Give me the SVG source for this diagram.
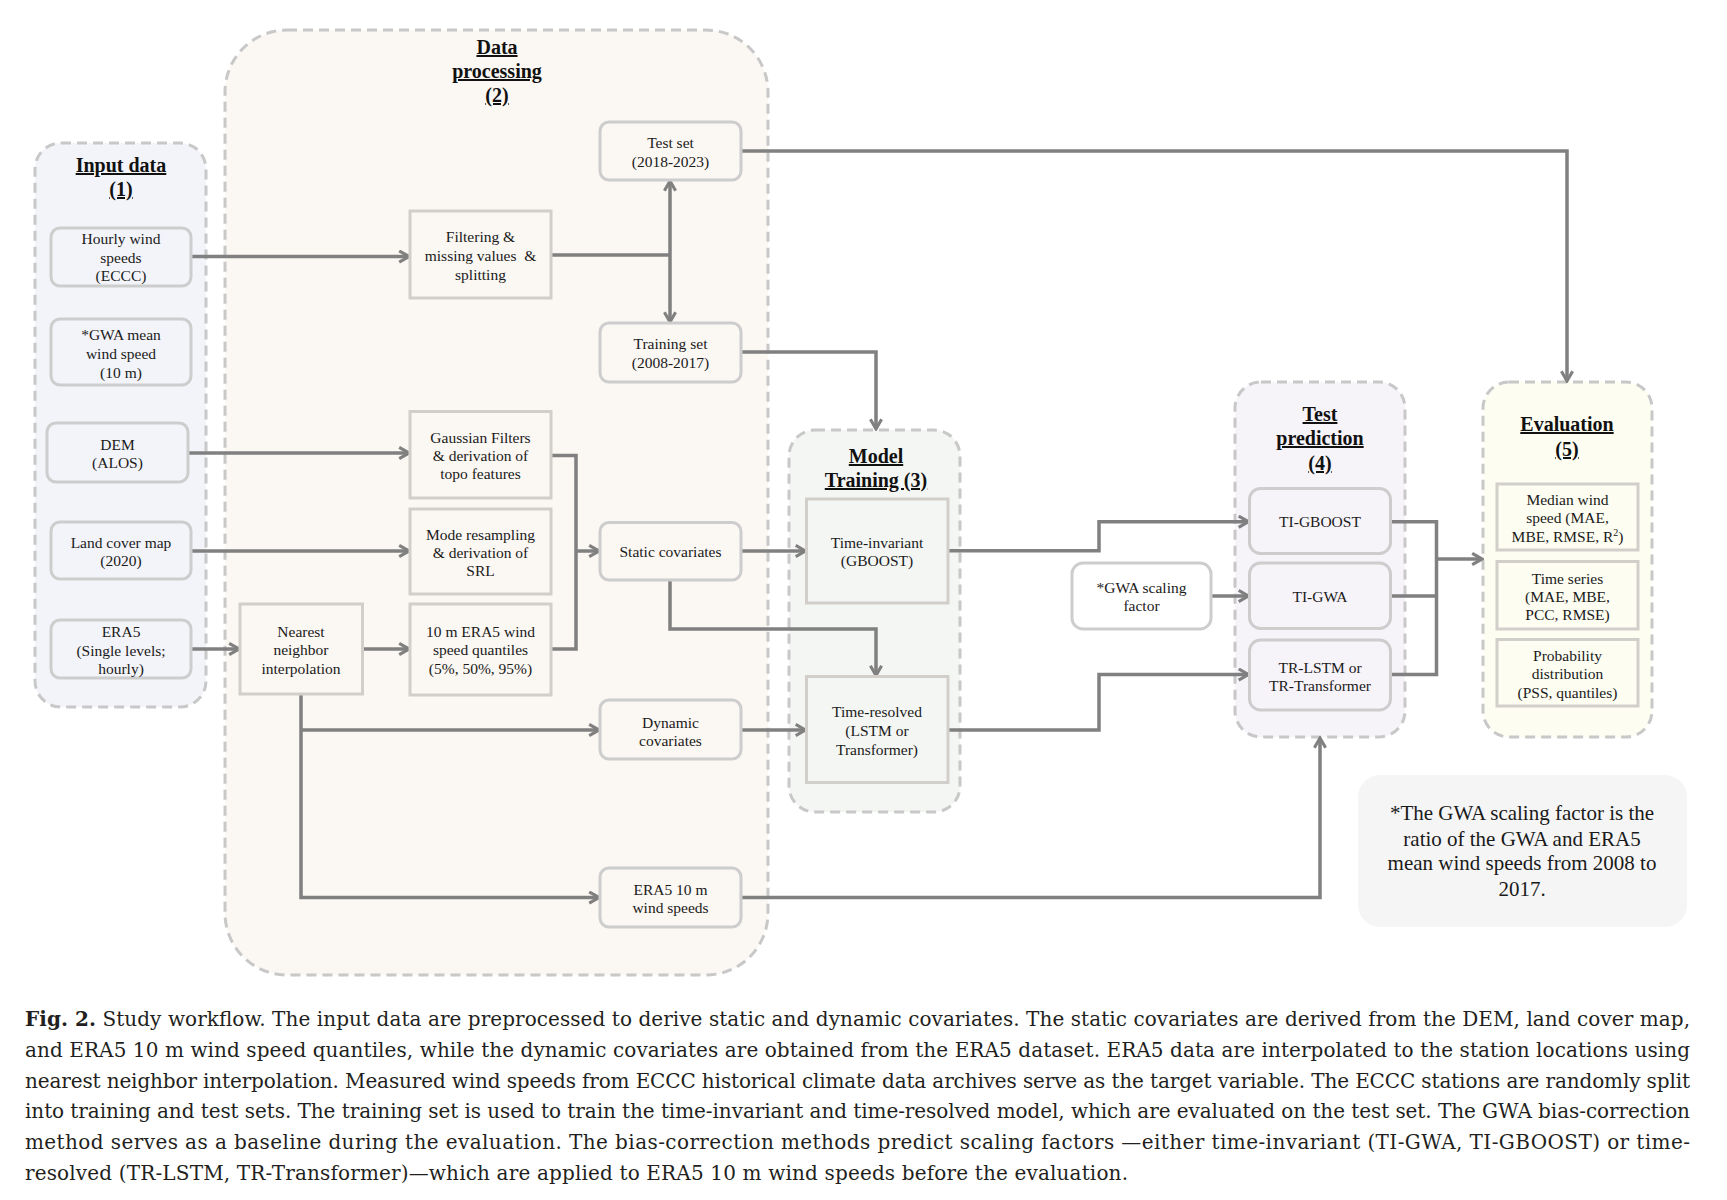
<svg xmlns="http://www.w3.org/2000/svg" width="1727" height="1200" viewBox="0 0 1727 1200">
<defs>
<style>
.grp{stroke:#c8c8c8;stroke-width:3;stroke-dasharray:10 6}
.rn{stroke:#cdcdcd;stroke-width:3}
.sq{stroke:#d2cfca;stroke-width:3}
.t{font-family:"Liberation Serif","Times New Roman",serif;font-size:15.5px;fill:#1a1a1a;text-anchor:middle}
.ti{font-family:"Liberation Serif","Times New Roman",serif;font-size:20px;font-weight:bold;fill:#111;text-anchor:middle;text-decoration:underline}
.note{font-family:"Liberation Serif","Times New Roman",serif;font-size:21px;fill:#1a1a1a;text-anchor:middle}
.cap{font-family:"DejaVu Serif",serif;font-size:20px;fill:#231f20}
.c{fill:none;stroke:#808080;stroke-width:3.5}
.ca{fill:none;stroke:#808080;stroke-width:3.5;marker-end:url(#ah)}
</style>
<marker id="ah" viewBox="0 0 10 10" refX="8.5" refY="5" markerUnits="userSpaceOnUse" markerWidth="14" markerHeight="14" orient="auto">
<path d="M1.5,1 L8.5,5 L1.5,9" fill="none" stroke="#808080" stroke-width="2.2"/>
</marker>
</defs>
<rect width="1727" height="1200" fill="#ffffff"/>

<!-- groups -->
<g id="group-input"><rect class="grp" x="35" y="143" width="171" height="564" rx="26" fill="#f3f4f9"/>
<text class="ti" x="121" y="172">Input data</text><text class="ti" x="121" y="196">(1)</text></g>
<g id="group-processing"><rect class="grp" x="225" y="30" width="543" height="945" rx="62" fill="#fbf7f3"/>
<text class="ti" x="497" y="54">Data</text><text class="ti" x="497" y="78">processing</text><text class="ti" x="497" y="102">(2)</text></g>
<g id="group-training"><rect class="grp" x="789" y="430" width="171" height="382" rx="26" fill="#f4f6f3"/>
<text class="ti" x="876" y="463">Model</text><text class="ti" x="876" y="487">Training (3)</text></g>
<g id="group-prediction"><rect class="grp" x="1235" y="382" width="170" height="355" rx="26" fill="#f6f3f9"/>
<text class="ti" x="1320" y="421">Test</text><text class="ti" x="1320" y="445">prediction</text><text class="ti" x="1320" y="470">(4)</text></g>
<g id="group-evaluation"><rect class="grp" x="1483" y="382" width="169" height="355" rx="26" fill="#fdfdf2"/>
<text class="ti" x="1567" y="431">Evaluation</text><text class="ti" x="1567" y="456">(5)</text></g>

<!-- connectors -->
<g id="connectors">
<path class="ca" d="M191,256.5 H409"/>
<path class="c" d="M551,255 H670"/>
<path class="ca" d="M670,255 V181"/>
<path class="ca" d="M670,255 V322"/>
<path class="ca" d="M741,151 H1567 V381"/>
<path class="ca" d="M741,352 H876 V429"/>
<path class="ca" d="M188,453 H409"/>
<path class="ca" d="M191,551 H409"/>
<path class="ca" d="M191,649 H239"/>
<path class="ca" d="M362.5,649 H409"/>
<path class="c" d="M551,455.5 H576 V649 H551"/>
<path class="ca" d="M576,551 H599"/>
<path class="ca" d="M741,551 H805.5"/>
<path class="ca" d="M670,580 V629 H876 V675.5"/>
<path class="ca" d="M301,694 V897.5 H599"/>
<path class="ca" d="M301,730 H599"/>
<path class="ca" d="M741,730 H805.5"/>
<path class="ca" d="M741,897.5 H1320 V738"/>
<path class="ca" d="M948,550.7 H1099 V521.7 H1248.5"/>
<path class="ca" d="M948,730 H1099 V674.5 H1248.5"/>
<path class="ca" d="M1211,596 H1248.5"/>
<path class="c" d="M1390.5,521.7 H1436.5 V674.5 H1390.5 M1390.5,596 H1436.5"/>
<path class="ca" d="M1436.5,559 H1482"/>
</g>

<!-- input nodes -->
<g id="n-hourly"><rect class="rn" x="51" y="228" width="140" height="58" rx="9" fill="#f3f4f9"/>
<text class="t" x="121" y="244">Hourly wind</text><text class="t" x="121" y="262.5">speeds</text><text class="t" x="121" y="281">(ECCC)</text></g>
<g id="n-gwamean"><rect class="rn" x="51" y="319" width="140" height="66" rx="9" fill="#f3f4f9"/>
<text class="t" x="121" y="340">*GWA mean</text><text class="t" x="121" y="359">wind speed</text><text class="t" x="121" y="378">(10 m)</text></g>
<g id="n-dem"><rect class="rn" x="47" y="423" width="141" height="59" rx="9" fill="#f3f4f9"/>
<text class="t" x="117.5" y="449.5">DEM</text><text class="t" x="117.5" y="467.5">(ALOS)</text></g>
<g id="n-landcover"><rect class="rn" x="51" y="522" width="140" height="57" rx="9" fill="#f3f4f9"/>
<text class="t" x="121" y="548">Land cover map</text><text class="t" x="121" y="566">(2020)</text></g>
<g id="n-era5"><rect class="rn" x="51" y="620" width="140" height="58" rx="9" fill="#f3f4f9"/>
<text class="t" x="121" y="637">ERA5</text><text class="t" x="121" y="655.5">(Single levels;</text><text class="t" x="121" y="674">hourly)</text></g>

<!-- processing nodes -->
<g id="n-testset"><rect class="rn" x="600" y="122" width="141" height="58" rx="9" fill="#fbf7f3"/>
<text class="t" x="670.5" y="147.5">Test set</text><text class="t" x="670.5" y="166.5">(2018-2023)</text></g>
<g id="n-filtering"><rect class="sq" x="410" y="211" width="141" height="87" fill="#fbf7f3"/>
<text class="t" x="480.5" y="242">Filtering &amp;</text><text class="t" x="480.5" y="261" xml:space="preserve">missing values  &amp;</text><text class="t" x="480.5" y="279.5">splitting</text></g>
<g id="n-trainset"><rect class="rn" x="600" y="323" width="141" height="59" rx="9" fill="#fbf7f3"/>
<text class="t" x="670.5" y="349">Training set</text><text class="t" x="670.5" y="367.5">(2008-2017)</text></g>
<g id="n-gaussian"><rect class="sq" x="410" y="411.5" width="141" height="86.5" fill="#fbf7f3"/>
<text class="t" x="480.5" y="443">Gaussian Filters</text><text class="t" x="480.5" y="461">&amp; derivation of</text><text class="t" x="480.5" y="479">topo features</text></g>
<g id="n-mode"><rect class="sq" x="410" y="509" width="141" height="85" fill="#fbf7f3"/>
<text class="t" x="480.5" y="540">Mode resampling</text><text class="t" x="480.5" y="558">&amp; derivation of</text><text class="t" x="480.5" y="576">SRL</text></g>
<g id="n-era5q"><rect class="sq" x="410" y="604" width="141" height="91" fill="#fbf7f3"/>
<text class="t" x="480.5" y="637">10 m ERA5 wind</text><text class="t" x="480.5" y="655">speed quantiles</text><text class="t" x="480.5" y="674">(5%, 50%, 95%)</text></g>
<g id="n-nearest"><rect class="sq" x="240" y="604" width="122.5" height="90" fill="#fbf7f3"/>
<text class="t" x="301" y="637">Nearest</text><text class="t" x="301" y="655">neighbor</text><text class="t" x="301" y="674">interpolation</text></g>
<g id="n-static"><rect class="rn" x="600" y="522.5" width="141" height="57.5" rx="9" fill="#fbf7f3"/>
<text class="t" x="670.5" y="557">Static covariates</text></g>
<g id="n-dynamic"><rect class="rn" x="600" y="700" width="141" height="59" rx="9" fill="#fbf7f3"/>
<text class="t" x="670.5" y="728">Dynamic</text><text class="t" x="670.5" y="746">covariates</text></g>
<g id="n-era5ws"><rect class="rn" x="600" y="868" width="141" height="59" rx="9" fill="#fbf7f3"/>
<text class="t" x="670.5" y="895">ERA5 10 m</text><text class="t" x="670.5" y="913">wind speeds</text></g>

<!-- training nodes -->
<g id="n-ti"><rect class="sq" x="806.5" y="499" width="141.5" height="104" fill="#f4f6f3" stroke="#cfd2cc"/>
<text class="t" x="877" y="547.5">Time-invariant</text><text class="t" x="877" y="565.5">(GBOOST)</text></g>
<g id="n-tr"><rect class="sq" x="806.5" y="676.5" width="141.5" height="106" fill="#f4f6f3" stroke="#cfd2cc"/>
<text class="t" x="877" y="717">Time-resolved</text><text class="t" x="877" y="735.5">(LSTM or</text><text class="t" x="877" y="754.5">Transformer)</text></g>

<!-- prediction nodes -->
<g id="n-gwasf"><rect class="rn" x="1072" y="563" width="139" height="66" rx="11" fill="#ffffff"/>
<text class="t" x="1141.5" y="592.5">*GWA scaling</text><text class="t" x="1141.5" y="611">factor</text></g>
<g id="n-tigboost"><rect class="rn" x="1249.5" y="488.5" width="141" height="65" rx="11" fill="#f6f3f9"/>
<text class="t" x="1320" y="527">TI-GBOOST</text></g>
<g id="n-tigwa"><rect class="rn" x="1249.5" y="563" width="141" height="65.5" rx="11" fill="#f6f3f9"/>
<text class="t" x="1320" y="601.5">TI-GWA</text></g>
<g id="n-trlstm"><rect class="rn" x="1249.5" y="640" width="141" height="70" rx="11" fill="#f6f3f9"/>
<text class="t" x="1320" y="673">TR-LSTM or</text><text class="t" x="1320" y="691">TR-Transformer</text></g>

<!-- evaluation nodes -->
<g id="n-median"><rect class="sq" x="1497" y="484" width="141" height="66" fill="#fdfdf2" stroke="#d6d6cc"/>
<text class="t" x="1567.5" y="505">Median wind</text><text class="t" x="1567.5" y="523">speed (MAE,</text><text class="t" x="1567.5" y="542">MBE, RMSE, R<tspan font-size="10" dy="-6">2</tspan><tspan dy="6">)</tspan></text></g>
<g id="n-timeseries"><rect class="sq" x="1497" y="561.5" width="141" height="67.5" fill="#fdfdf2" stroke="#d6d6cc"/>
<text class="t" x="1567.5" y="584">Time series</text><text class="t" x="1567.5" y="602">(MAE, MBE,</text><text class="t" x="1567.5" y="620">PCC, RMSE)</text></g>
<g id="n-prob"><rect class="sq" x="1497" y="639.5" width="141" height="66.5" fill="#fdfdf2" stroke="#d6d6cc"/>
<text class="t" x="1567.5" y="661">Probability</text><text class="t" x="1567.5" y="679">distribution</text><text class="t" x="1567.5" y="697.5">(PSS, quantiles)</text></g>

<!-- note -->
<g id="n-note"><rect x="1358" y="775" width="329" height="152" rx="22" fill="#f5f5f5"/>
<text class="note" x="1522" y="820">*The GWA scaling factor is the</text>
<text class="note" x="1522" y="845.5">ratio of the GWA and ERA5</text>
<text class="note" x="1522" y="870">mean wind speeds from 2008 to</text>
<text class="note" x="1522" y="895.5">2017.</text></g>

<!-- caption -->
<g id="caption">
<text class="cap" x="25" y="1026" textLength="1665" lengthAdjust="spacing"><tspan font-weight="bold">Fig. 2.</tspan> Study workflow. The input data are preprocessed to derive static and dynamic covariates. The static covariates are derived from the DEM, land cover map,</text>
<text class="cap" x="25" y="1056.8" textLength="1665" lengthAdjust="spacing">and ERA5 10 m wind speed quantiles, while the dynamic covariates are obtained from the ERA5 dataset. ERA5 data are interpolated to the station locations using</text>
<text class="cap" x="25" y="1087.6" textLength="1665" lengthAdjust="spacing">nearest neighbor interpolation. Measured wind speeds from ECCC historical climate data archives serve as the target variable. The ECCC stations are randomly split</text>
<text class="cap" x="25" y="1118.4" textLength="1665" lengthAdjust="spacing">into training and test sets. The training set is used to train the time-invariant and time-resolved model, which are evaluated on the test set. The GWA bias-correction</text>
<text class="cap" x="25" y="1149.2" textLength="1665" lengthAdjust="spacing">method serves as a baseline during the evaluation. The bias-correction methods predict scaling factors —either time-invariant (TI-GWA, TI-GBOOST) or time-</text>
<text class="cap" x="25" y="1180" textLength="1103" lengthAdjust="spacing">resolved (TR-LSTM, TR-Transformer)—which are applied to ERA5 10 m wind speeds before the evaluation.</text>
</g>
</svg>
